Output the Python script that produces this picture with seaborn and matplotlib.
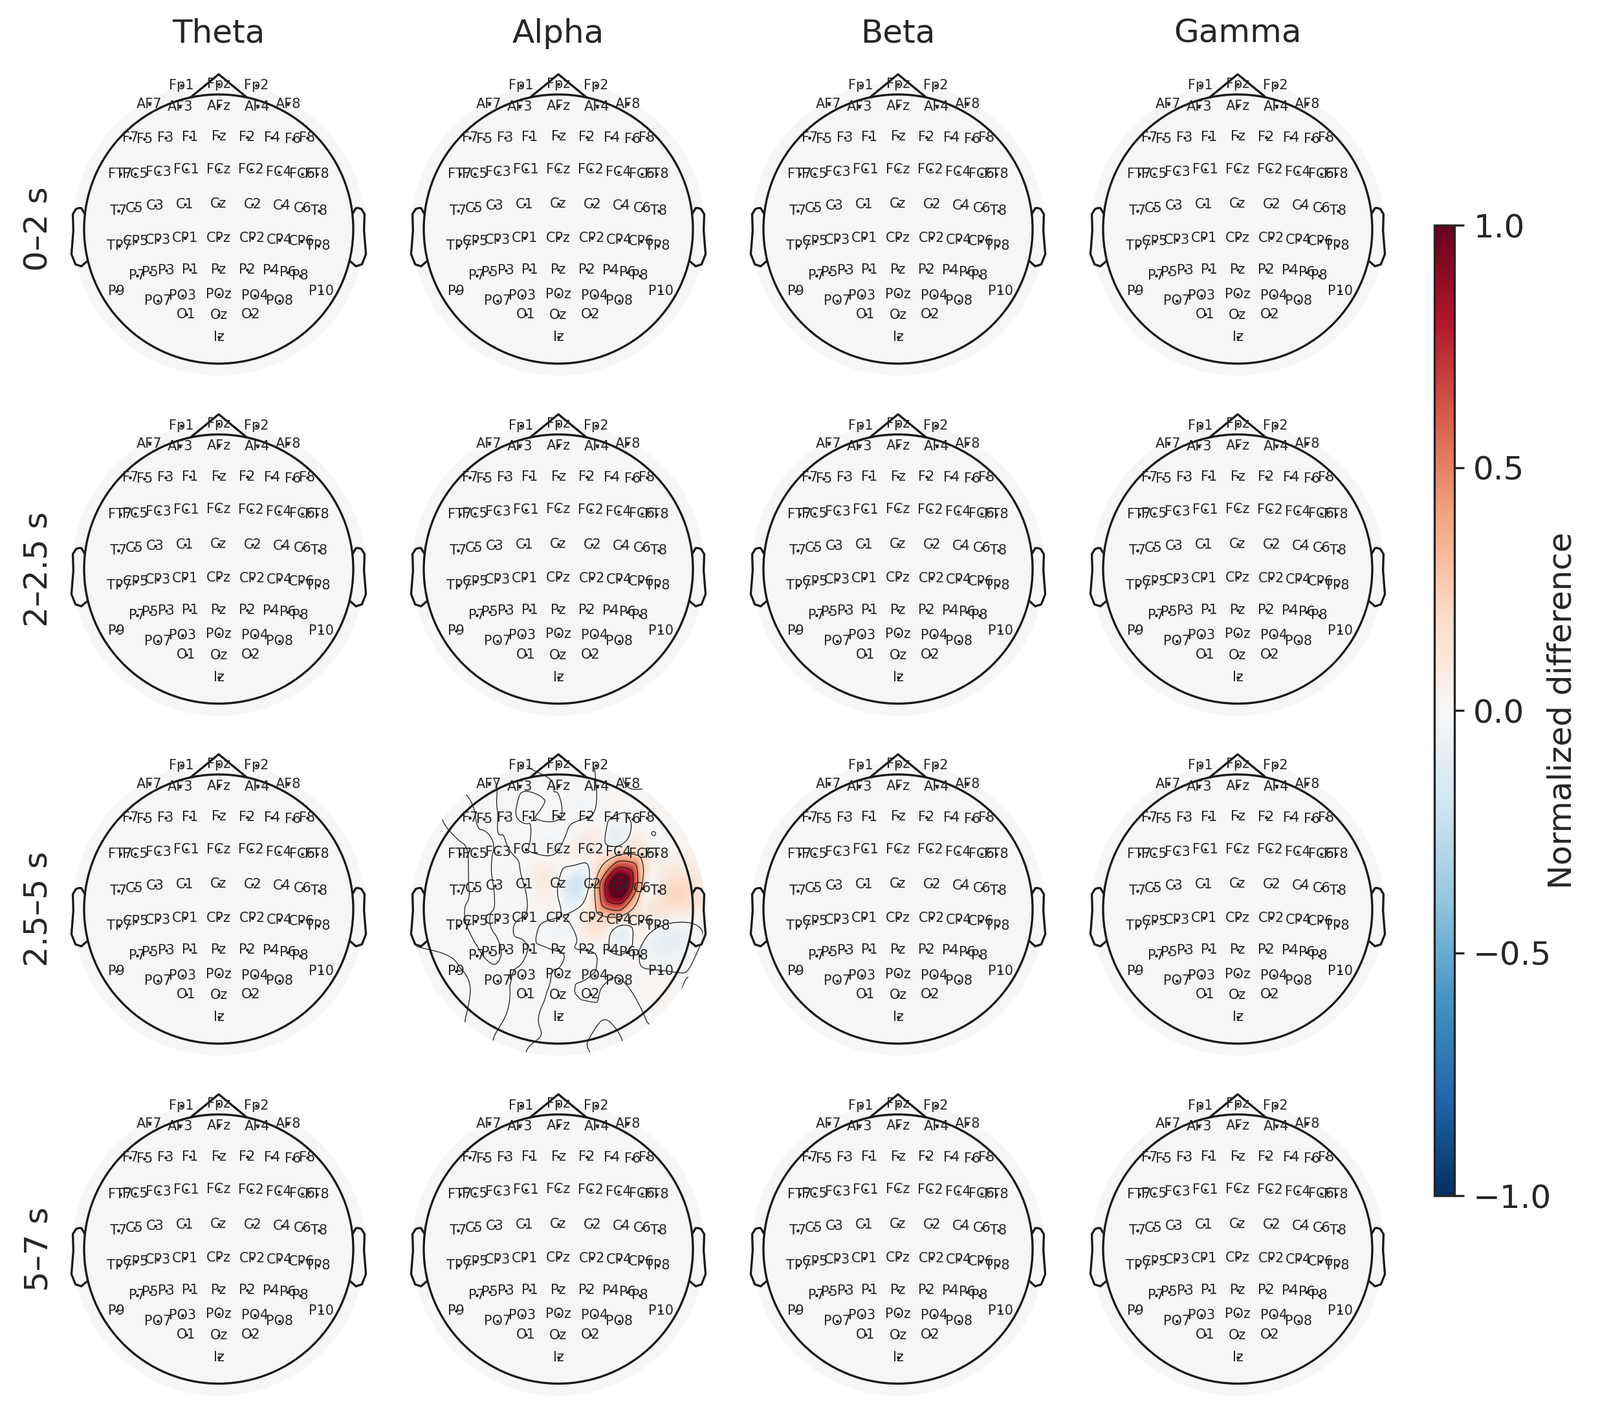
import numpy as np
import pandas as pd
import seaborn as sns
import matplotlib
matplotlib.use("Agg")
import matplotlib.pyplot as plt
import matplotlib.tri as mtri
from matplotlib.patches import Circle

sns.set_theme(style="ticks")
plt.rcParams["font.family"] = ["DejaVu Sans"]
plt.rcParams["contour.negative_linestyle"] = "solid"

bands = ["Theta", "Alpha", "Beta", "Gamma"]
windows = ["0–2 s", "2–2.5 s", "2.5–5 s", "5–7 s"]

# BioSemi-64 layout, 2D positions in units of head radius
ch_names = ["Fp1", "Fpz", "Fp2",
            "AF7", "AF3", "AFz", "AF4", "AF8",
            "F7", "F5", "F3", "F1", "Fz", "F2", "F4", "F6", "F8",
            "FT7", "FC5", "FC3", "FC1", "FCz", "FC2", "FC4", "FC6", "FT8",
            "T7", "C5", "C3", "C1", "Cz", "C2", "C4", "C6", "T8",
            "TP7", "CP5", "CP3", "CP1", "CPz", "CP2", "CP4", "CP6", "TP8",
            "P9", "P7", "P5", "P3", "P1", "Pz", "P2", "P4", "P6", "P8", "P10",
            "PO7", "PO3", "POz", "PO4", "PO8",
            "O1", "Oz", "O2",
            "Iz"]
ch_x = [-0.28, 0.0, 0.28,
        -0.515, -0.288, 0.0, 0.288, 0.515,
        -0.658, -0.552, -0.396, -0.212, 0.0, 0.212, 0.396, 0.552, 0.658,
        -0.732, -0.622, -0.448, -0.242, 0.0, 0.242, 0.448, 0.622, 0.732,
        -0.744, -0.624, -0.472, -0.252, 0.0, 0.252, 0.472, 0.624, 0.744,
        -0.738, -0.616, -0.452, -0.25, 0.0, 0.25, 0.452, 0.616, 0.738,
        -0.76, -0.604, -0.512, -0.388, -0.21, 0.0, 0.21, 0.388, 0.512, 0.604, 0.76,
        -0.452, -0.27, 0.0, 0.27, 0.452,
        -0.24, 0.0, 0.24,
        0.0]
ch_y = [1.065, 1.078, 1.065,
        0.928, 0.91, 0.915, 0.91, 0.928,
        0.68, 0.67, 0.678, 0.683, 0.686, 0.683, 0.678, 0.67, 0.68,
        0.407, 0.411, 0.424, 0.44, 0.443, 0.44, 0.424, 0.411, 0.407,
        0.135, 0.155, 0.171, 0.182, 0.187, 0.182, 0.171, 0.155, 0.135,
        -0.123, -0.093, -0.08, -0.069, -0.066, -0.069, -0.08, -0.093, -0.123,
        -0.46, -0.345, -0.32, -0.309, -0.304, -0.304, -0.304, -0.309, -0.32, -0.345, -0.46,
        -0.536, -0.493, -0.485, -0.493, -0.536,
        -0.637, -0.64, -0.637,
        -0.805]

# normalized difference, alpha band 2.5-5 s (all other maps are flat zero)
alpha_25_5 = [0.002, -0.002, 0.002,
              -0.002, 0.002, -0.002, 0.002, -0.002,
              0.002, -0.002, 0.002, -0.002, 0.002, -0.002, 0.0, 0.01, 0.02,
              -0.002, 0.002, -0.002, 0.002, -0.002, 0.08, 0.15, 0.18, 0.03,
              -0.002, 0.002, -0.002, 0.002, -0.002, 0.12, 1.15, 0.2, 0.1,
              -0.002, 0.002, -0.002, 0.002, -0.002, 0.15, 0.15, 0.08, 0.02,
              0.002, -0.002, 0.002, -0.002, 0.002, -0.002, 0.002, -0.002, 0.002, -0.002, 0.002,
              -0.002, 0.002, -0.002, 0.002, -0.002,
              0.002, -0.002, 0.002,
              -0.002]
flat = [0.0] * len(ch_names)

diffs = {(w, b): flat for w in windows for b in bands}
diffs[("2.5–5 s", "Alpha")] = alpha_25_5

chans = pd.DataFrame({"name": ch_names, "x": ch_x, "y": ch_y})
n_ch = len(chans)

# sensors plus a ring of border points (border value = mean of neighbours)
R_CLIP = 1.09
ang = np.linspace(0, 2 * np.pi, 28, endpoint=False)
px = np.r_[chans.x, 1.11 * np.cos(ang)]
py = np.r_[chans.y, 1.11 * np.sin(ang)]
tri = mtri.Triangulation(px, py)
nbrs = {i: set() for i in range(n_ch, len(px))}
for a, b in tri.edges:
    if a >= n_ch and b < n_ch:
        nbrs[a].add(b)
    if b >= n_ch and a < n_ch:
        nbrs[b].add(a)

g = np.linspace(-R_CLIP, R_CLIP, 321)
gx, gy = np.meshgrid(g, g)


def interp(vals):
    vals = np.asarray(vals, float)
    extra = np.array([vals[sorted(nbrs[i])].mean() if nbrs[i] else np.nan
                      for i in range(n_ch, len(px))])
    extra[np.isnan(extra)] = np.nanmean(extra)
    f = mtri.CubicTriInterpolator(tri, np.r_[vals, extra], kind="min_E")
    return f(gx, gy)


# head outline (MNE style)
nose_x = [-0.2094, 0.0, 0.2094]
nose_y = [0.978, 1.15, 0.978]
ear_x = np.array([.497, .510, .518, .5299, .5419, .54, .547, .532, .510, .489]) * 2
ear_y = np.array([.0555, .0775, .0783, .0746, .0555, -.0055, -.0932, -.1313, -.1384, -.1199]) * 2

W, H = 2473, 2170
fig = plt.figure(figsize=(W / 300, H / 300), dpi=300)
col_cx = [338, 863, 1388, 1913]
row_cy = [354, 879.5, 1405, 1930.5]
half = 1.2 * 208
levels = [-0.75, -0.5, -0.25, 0.0, 0.25, 0.5, 0.75, 1.0]

for r, w in enumerate(windows):
    for c, b in enumerate(bands):
        cx, cy = col_cx[c], row_cy[r]
        ax = fig.add_axes([(cx - half) / W, 1 - (cy + half) / H, 2 * half / W, 2 * half / H])
        vals = diffs[(w, b)]
        z = interp(vals)
        clip = Circle((0, 0), R_CLIP, transform=ax.transData)
        im = ax.imshow(z, extent=[-R_CLIP, R_CLIP, -R_CLIP, R_CLIP], origin="lower",
                       cmap="RdBu_r", vmin=-1, vmax=1, interpolation="bilinear", zorder=1)
        im.set_clip_path(clip)
        if np.ptp(vals) > 0:
            cs = ax.contour(gx, gy, z, levels=levels, colors="k", linewidths=0.3, zorder=2)
            cs.set_clip_path(clip)
        ax.add_patch(Circle((0, 0), 1.0, fill=False, ec="k", lw=0.8, zorder=3))
        ax.plot(nose_x, nose_y, color="k", lw=0.8, zorder=3)
        ax.plot(ear_x, ear_y, color="k", lw=0.8, zorder=3)
        ax.plot(-ear_x, ear_y, color="k", lw=0.8, zorder=3)
        sns.scatterplot(data=chans, x="x", y="y", color="k", s=1.2, linewidth=0,
                        legend=False, ax=ax, zorder=4)
        for nm, x, y in zip(chans.name, chans.x, chans.y):
            ax.text(x, y, nm, fontsize=5.0, ha="center", va="center", zorder=5)
        ax.set_xlim(-1.2, 1.2)
        ax.set_ylim(-1.2, 1.2)
        ax.set_aspect("equal")
        ax.set_axis_off()

for c, b in enumerate(bands):
    fig.text(col_cx[c] / W, 1 - 52 / H, b, fontsize=12, ha="center", va="center")
for r, w in enumerate(windows):
    fig.text(60 / W, 1 - row_cy[r] / H, w, fontsize=12, rotation=90, ha="center", va="center")

cax = fig.add_axes([2217 / W, 1 - 1848 / H, 31 / W, 1500 / H])
sm = plt.cm.ScalarMappable(norm=plt.Normalize(-1, 1), cmap="RdBu_r")
cbar = fig.colorbar(sm, cax=cax, ticks=[-1, -0.5, 0, 0.5, 1])
cbar.ax.tick_params(labelsize=12, length=3.5, width=0.8)
cbar.outline.set_linewidth(0.8)
cbar.set_label("Normalized difference", fontsize=12, labelpad=-2)

fig.savefig("out.png", dpi=300)
